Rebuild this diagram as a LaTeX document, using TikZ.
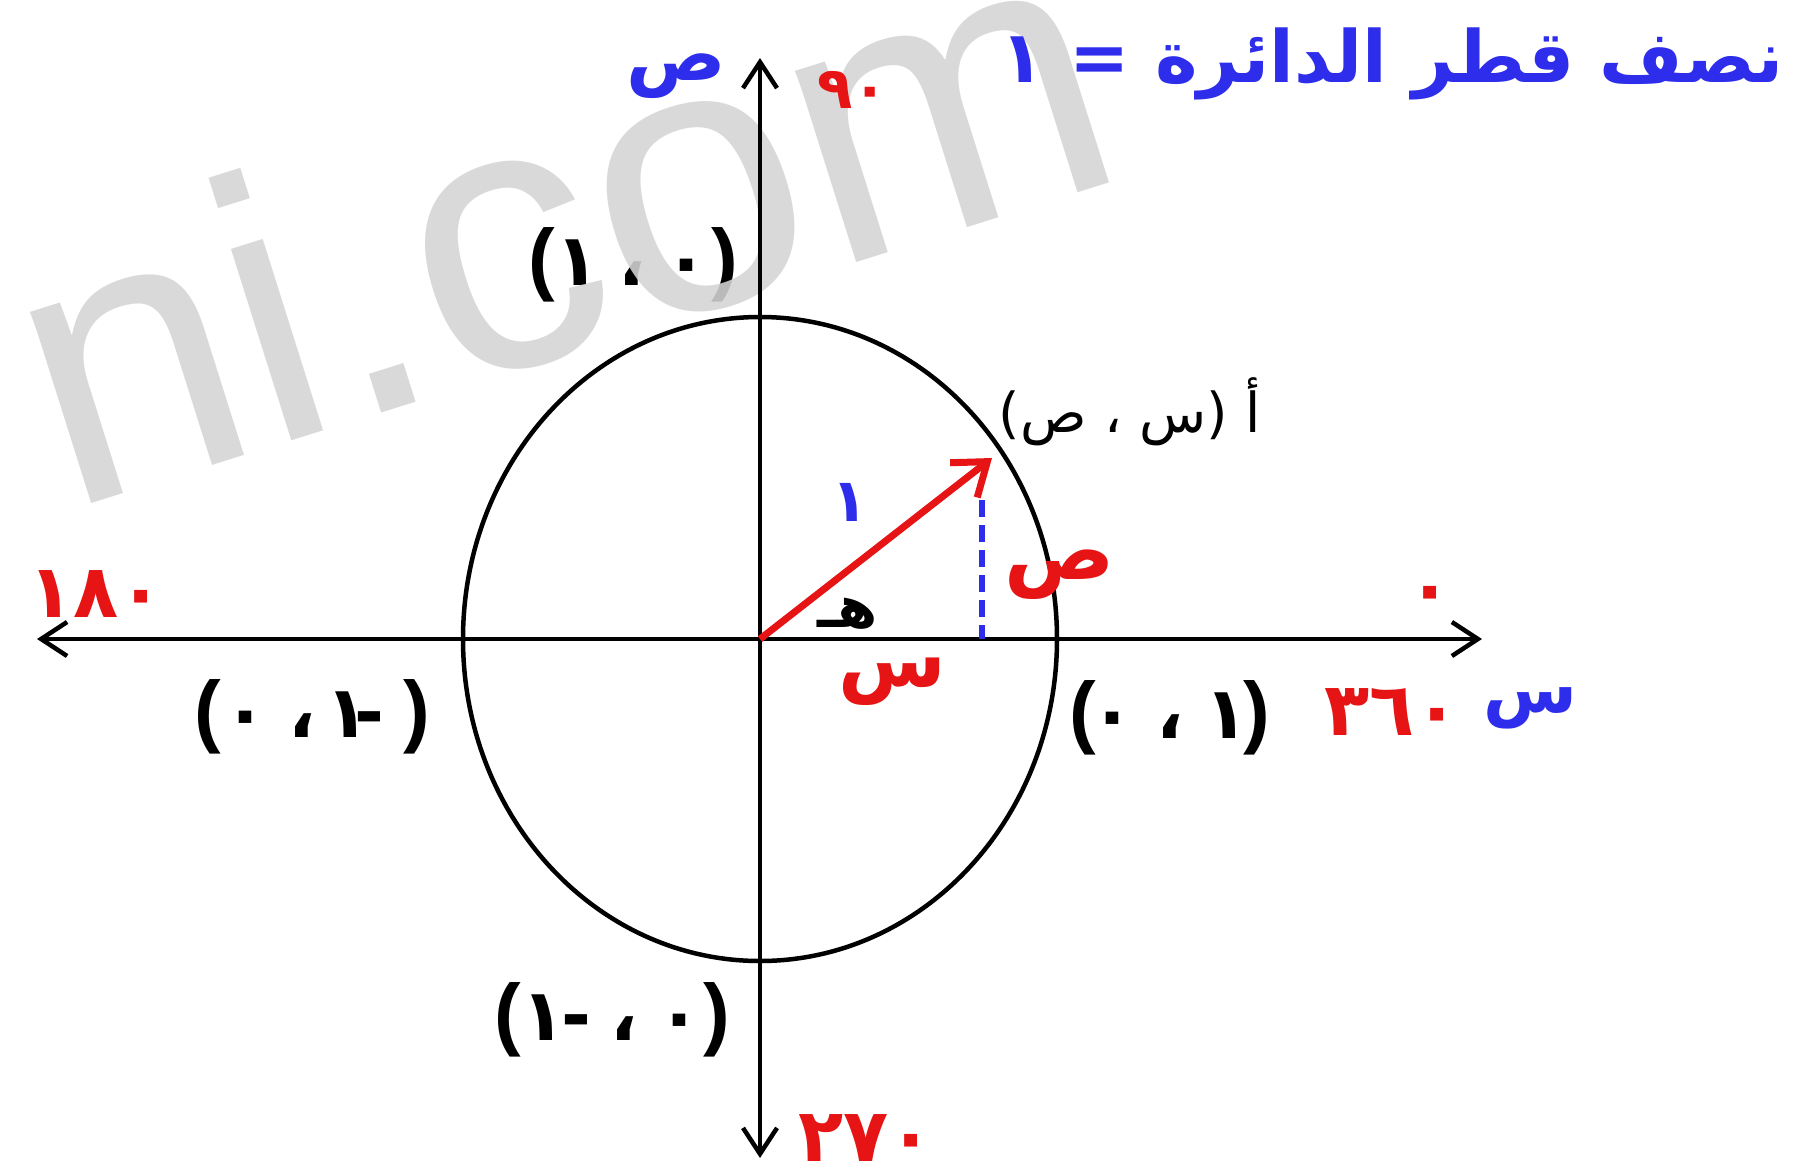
\documentclass[tikz,border=0pt]{standalone}
\usepackage{fontspec}
\usetikzlibrary{arrows.meta}
\TeXXeTstate=1
\newfontfamily\ar[Script=Arabic]{DejaVu Sans}
\newfontfamily\lat{Liberation Sans}
\definecolor{myblue}{RGB}{45,45,235}
\definecolor{myred}{RGB}{230,20,20}
\definecolor{wmgray}{RGB}{212,212,212}
\newcommand\fs[1]{\fontsize{#1}{#1}\selectfont}
\newcommand\pz[1]{{\lat\bfseries\fs{80}#1}}
% glyph centred at #1 pt from the left edge of the label
\newcommand\gat[2]{\makebox[0pt][l]{\hspace*{#1pt}\makebox[0pt]{#2}}}
\tikzset{
  lab/.style={inner sep=0pt, font=\ar\bfseries\fs{72}},
  rednum/.style={inner sep=0pt, text=myred, font=\ar\bfseries\fs{74}},
  axisline/.style={line width=4.5pt, {Straight Barb[length=26pt,width=34pt,line width=4.5pt]}-{Straight Barb[length=26pt,width=34pt,line width=4.5pt]}},
}
\begin{document}
\begin{tikzpicture}[x=1pt,y=-1pt]
\useasboundingbox (0,0) rectangle (1815,1171);
% label lying under the watermark
\node[lab] (ctop) at (633.5,265) {\gat{12}{\pz{(}}\gat{47}{١}\gat{102}{،}\gat{157}{٠}\gat{195}{\pz{)}}\hspace*{207pt}};
% watermark
\node[inner sep=0pt, anchor=base west, rotate=17.5, text=wmgray, opacity=0.88, font=\lat\fs{380}] (wmk) at (66,512) {ni.com};
% geometry
\coordinate (O) at (760,639);
\coordinate (L) at (37,639);
\coordinate (R) at (1482,639);
\coordinate (T) at (760,58);
\coordinate (B) at (760,1158);
\coordinate (P) at (992,458);
\coordinate (Dt) at (982,500);
\coordinate (Db) at (982,639);
\draw[line width=4.5pt] (O) ellipse [x radius=297, y radius=322];
\draw[axisline] (L) -- (R);
\draw[axisline] (B) -- (T);
\draw[myblue, line width=6pt, dash pattern=on 17pt off 8pt] (Dt) -- (Db);
\draw[myred, line width=7pt, -{Straight Barb[length=30pt,width=44pt,line width=7pt]}] (O) -- (P);
% title
\node[inner sep=0pt, text=myblue, font=\ar\bfseries\fs{72}] (title) at (1392,64) {\beginR نصف قطر الدائرة = ١\endR};
% axis letters
\node[lab, text=myblue, font=\ar\bfseries\fs{74}] (yl) at (676,76) {ص};
\node[lab, text=myblue, font=\ar\bfseries\fs{68}] (xl) at (1530,708) {س};
% angles
\node[rednum, font=\ar\bfseries\fs{58}] (n90) at (853,90) {٩٠};
\node[rednum] (n0) at (1430,600) {٠};
\node[rednum] (n360) at (1392,712) {٣٦٠};
\node[rednum] (n180) at (96,594) {١٨٠};
\node[rednum] (n270) at (866,1138) {٢٧٠};
% coordinates
\node[lab] (cright) at (1170,718) {\gat{13}{\pz{(}}\gat{42}{٠}\gat{100}{،}\gat{156}{١}\gat{187}{\pz{)}}\hspace*{200pt}};
\node[lab] (cleft) at (312.5,717) {\gat{12}{\pz{(}}\gat{49}{٠}\gat{106}{،}\gat{152}{١}\gat{173}{-}\gat{221}{\pz{)}}\hspace*{233pt}};
\node[lab] (cbot) at (612.5,1020) {\gat{12}{\pz{(}}\gat{47}{١}\gat{80}{-}\gat{128}{،}\gat{184}{٠}\gat{221}{\pz{)}}\hspace*{233pt}};
% point A
\node[inner sep=0pt, font=\ar\fs{55}] (A) at (1130,412) {\beginR أ (س ، ص)\endR};
% triangle labels
\node[inner sep=0pt, text=myblue, font=\ar\bfseries\fs{60}] (one) at (850,502) {١};
\node[inner sep=0pt, text=myred, font=\ar\bfseries\fs{82}] (sy) at (1060,575) {ص};
\node[inner sep=0pt, text=myred, font=\ar\bfseries\fs{78}] (sx) at (892,682) {س};
\node[inner sep=0pt, font=\ar\bfseries\fs{58}] (h) at (848,614) {هـ};
\end{tikzpicture}
\end{document}
